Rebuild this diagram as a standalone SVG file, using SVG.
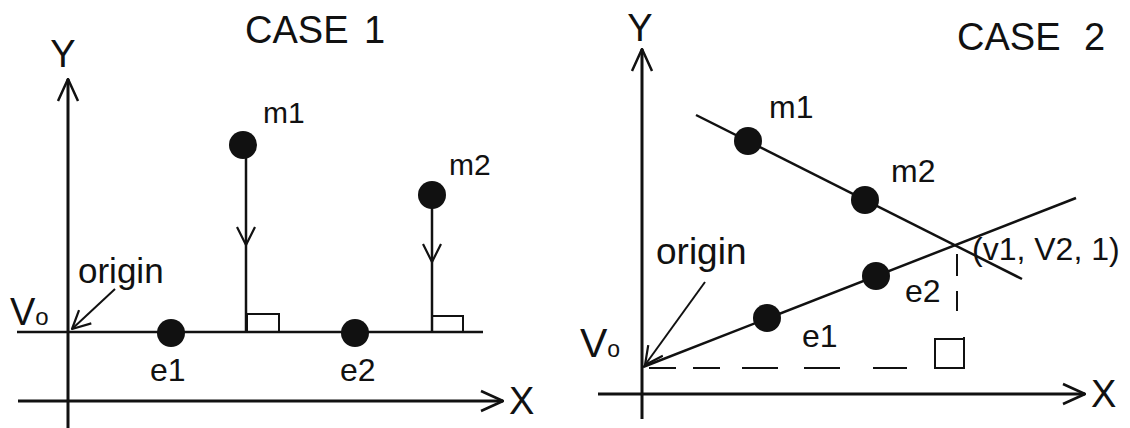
<svg xmlns="http://www.w3.org/2000/svg" width="1130" height="428" viewBox="0 0 1130 428">
<style>
.ln{stroke:#111;stroke-width:2.5;fill:none;stroke-linecap:butt}
.ax{stroke:#111;stroke-width:3;fill:none}
.thin{stroke:#111;stroke-width:2;fill:none}
.dot{fill:#111}
.t{font-family:"Liberation Sans",Arial,sans-serif;fill:#111}
.big{font-size:38px}
.lbl{font-size:30px}
.lbl2{font-size:32px}
.sub{font-size:24px}
</style>
<defs>
<marker id="open" viewBox="0 0 24 24" refX="23" refY="12" markerWidth="24" markerHeight="24" markerUnits="userSpaceOnUse" orient="auto">
<path d="M1,2 L23,12 L1,22" fill="none" stroke="#111" stroke-width="2.5" stroke-linejoin="round"/>
</marker>
<marker id="openS" viewBox="0 0 20 20" refX="19" refY="10" markerWidth="20" markerHeight="20" markerUnits="userSpaceOnUse" orient="auto">
<path d="M1,1 L19,10 L1,19" fill="none" stroke="#111" stroke-width="2.2" stroke-linejoin="round"/>
</marker>
</defs>
<rect width="1130" height="428" fill="#fff"/>

<g id="connectors">
<!-- case 1 -->
<line class="ax" x1="68" y1="428" x2="68" y2="79" marker-end="url(#open)"/>
<line class="ax" x1="18" y1="401" x2="503" y2="401" marker-end="url(#open)"/>
<line class="ln" x1="17" y1="332" x2="483" y2="332"/>
<polyline class="ln" points="246,145 246,245 246,332" marker-mid="url(#openS)"/>
<polyline class="ln" points="432,193 432,262 432,332" marker-mid="url(#openS)"/>
<path class="thin" d="M247,332 V314 H279 V332"/>
<path class="thin" d="M432,332 V316 H463 V332"/>
<line class="thin" x1="115" y1="289" x2="72" y2="329" marker-end="url(#openS)"/>
<!-- case 2 -->
<line class="ax" x1="642" y1="419" x2="642" y2="49" marker-end="url(#open)"/>
<line class="ax" x1="598" y1="394" x2="1085" y2="394" marker-end="url(#open)"/>
<line class="ln" x1="643" y1="367" x2="1076" y2="198"/>
<line class="ln" x1="696" y1="115" x2="1022" y2="279"/>
<line class="thin" x1="705" y1="282" x2="645" y2="365" marker-end="url(#openS)"/>
<path class="thin" d="M649,368 H676 M693,368 H720 M742,368 H778 M804,368 H840 M873,368 H907"/>
<path class="thin" d="M957,254 V276 M957,291 V311"/>
<path class="thin" d="M964,337 V368 H935 V339 H964"/>
</g>

<g id="case1-labels">
<text class="t big" x="245" y="43">CASE <tspan x="364">1</tspan></text>
<text class="t big" x="63" y="67" text-anchor="middle">Y</text>
<text class="t big" x="509" y="414">X</text>
<text class="t" x="78" y="283" font-size="35">origin</text>
<text class="t big" x="10" y="325">V<tspan class="sub">o</tspan></text>
</g>
<g id="c1-m1"><circle class="dot" cx="243" cy="145" r="14"/><text class="t lbl" x="263" y="123">m1</text></g>
<g id="c1-m2"><circle class="dot" cx="432" cy="195" r="14"/><text class="t lbl" x="449" y="175">m2</text></g>
<g id="c1-e1"><circle class="dot" cx="171" cy="333" r="14"/><text class="t lbl2" x="150" y="381">e1</text></g>
<g id="c1-e2"><circle class="dot" cx="355" cy="333" r="14"/><text class="t lbl2" x="340" y="381">e2</text></g>

<g id="case2-labels">
<text class="t big" x="957" y="50">CASE <tspan x="1084">2</tspan></text>
<text class="t big" x="640" y="41" text-anchor="middle">Y</text>
<text class="t big" x="1091" y="407">X</text>
<text class="t" x="656" y="264" font-size="37">origin</text>
<text class="t" x="580" y="357" font-size="41">V<tspan font-size="23">o</tspan></text>
<text class="t" x="972" y="260" font-size="32">(v1, V2, 1)</text>
</g>
<g id="c2-m1"><circle class="dot" cx="748" cy="141" r="14"/><text class="t lbl2" x="769" y="118">m1</text></g>
<g id="c2-m2"><circle class="dot" cx="865" cy="200" r="14"/><text class="t lbl2" x="891" y="182">m2</text></g>
<g id="c2-e1"><circle class="dot" cx="767" cy="318" r="14"/><text class="t lbl2" x="802" y="347">e1</text></g>
<g id="c2-e2"><circle class="dot" cx="876" cy="276" r="14"/><text class="t lbl2" x="905" y="302">e2</text></g>
</svg>
